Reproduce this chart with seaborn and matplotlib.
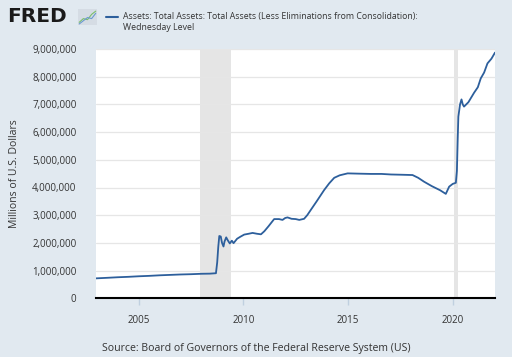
import matplotlib
matplotlib.use("Agg")
import matplotlib.pyplot as plt
import seaborn as sns
import pandas as pd
from matplotlib.ticker import FuncFormatter

# Data (fractional years, millions of US dollars)
years = [2002.96, 2003.5, 2004.0, 2004.5, 2005.0, 2005.5, 2006.0, 2006.5, 2007.0, 2007.5,
         2008.0, 2008.4, 2008.69, 2008.75, 2008.8, 2008.85, 2008.92, 2008.98, 2009.05, 2009.1,
         2009.18, 2009.25, 2009.35, 2009.45, 2009.53, 2009.7, 2009.85, 2010.04, 2010.25,
         2010.44, 2010.65, 2010.84, 2011.0, 2011.2, 2011.47, 2011.7, 2011.87, 2012.0, 2012.11,
         2012.3, 2012.5, 2012.67, 2012.9, 2013.05, 2013.22, 2013.5, 2013.86, 2014.1, 2014.34,
         2014.6, 2014.98, 2015.5, 2016.09, 2016.6, 2017.05, 2017.6, 2018.08, 2018.35, 2018.63,
         2019.0, 2019.4, 2019.67, 2019.75, 2019.83, 2020.0, 2020.15, 2020.2, 2020.24, 2020.27,
         2020.35, 2020.42, 2020.48, 2020.54, 2020.75, 2021.02, 2021.2, 2021.34, 2021.5,
         2021.66, 2021.85, 2022.02]
assets = [720000, 740000, 760000, 775000, 795000, 810000, 830000, 845000, 860000, 870000,
          885000, 890000, 905000, 1300000, 1850000, 2250000, 2230000, 2000000, 1870000, 2050000,
          2200000, 2100000, 1980000, 2080000, 1990000, 2150000, 2220000, 2300000, 2330000,
          2360000, 2330000, 2310000, 2420000, 2600000, 2860000, 2860000, 2830000, 2900000, 2920000,
          2870000, 2860000, 2830000, 2870000, 3000000, 3190000, 3500000, 3910000, 4150000, 4350000,
          4440000, 4510000, 4500000, 4490000, 4490000, 4470000, 4460000, 4450000, 4350000, 4210000,
          4050000, 3900000, 3770000, 3900000, 4030000, 4130000, 4170000, 4600000, 5800000, 6560000,
          7000000, 7180000, 7000000, 6920000, 7080000, 7420000, 7620000, 7940000, 8150000,
          8480000, 8650000, 8870000]

recessions = [(2007.92, 2009.42), (2020.08, 2020.25)]
xticks = [2005, 2010, 2015, 2020]
yticks = [0, 1000000, 2000000, 3000000, 4000000, 5000000, 6000000, 7000000, 8000000, 9000000]

df = pd.DataFrame({"year": years, "assets": assets})

BG = "#e1e9f0"
LINE = "#2d5f9c"
TXT = "#333333"

sns.set_theme(style="white")
plt.rcParams["font.family"] = ["Open Sans", "DejaVu Sans"]

fig = plt.figure(figsize=(5.12, 3.57), dpi=100, facecolor=BG)
ax = fig.add_axes([96/512, 1-298.3/357, (495-96)/512, (298.3-49)/357])
ax.set_facecolor("white")

for a, b in recessions:
    ax.axvspan(a, b, color="#e5e5e5", lw=0, zorder=0)

sns.lineplot(data=df, x="year", y="assets", ax=ax, color=LINE, lw=1.3, zorder=3)

ax.set_xlim(2002.96, 2022.02)
ax.set_ylim(0, 9000000)
ax.set_xticks(xticks)
ax.set_yticks(yticks)
ax.yaxis.set_major_formatter(FuncFormatter(lambda v, p: f"{int(v):,}"))
ax.grid(axis="y", color="#e6e6e6", lw=0.9, zorder=1)
ax.grid(axis="x", visible=False)
for s in ["top", "right", "left"]:
    ax.spines[s].set_visible(False)
ax.spines["bottom"].set_color("black")
ax.spines["bottom"].set_linewidth(1.5)
ax.spines["bottom"].set_zorder(4)
ax.tick_params(axis="y", length=0, pad=14, labelsize=7, labelcolor=TXT)
ax.tick_params(axis="x", length=5, width=1, color="#c0d0e0", pad=7, labelsize=7, labelcolor=TXT, bottom=True)
ax.set_xlabel("")
ax.set_ylabel("Millions of U.S. Dollars", fontsize=7.5, color=TXT, labelpad=8)
ax.yaxis.set_label_coords(-0.19, 0.5)

# Header: FRED logo + legend
fig.text(7/512, 1-17/357, "FRED", fontsize=14.5, fontweight="heavy", color="#1a1a1a",
         va="center", ha="left", family=["DejaVu Sans"])
icon = fig.add_axes([78/512, 1-25/357, 19/512, 16/357])
icon.set_facecolor("#d5dce4")
icon.plot([0, 1, 2, 3, 4], [0.5, 1.2, 1.0, 2.0, 2.6], color="#7bbf6a", lw=0.8)
icon.plot([0, 1, 2, 3, 4], [0.2, 0.8, 1.4, 1.2, 2.2], color="#6a9ad0", lw=0.8)
icon.set_xlim(-0.3, 4.3)
icon.set_ylim(0, 3)
icon.set_xticks([])
icon.set_yticks([])
for s in icon.spines.values():
    s.set_visible(False)

fig.add_artist(plt.Line2D([106/512, 118/512], [1-17/357, 1-17/357], color=LINE, lw=1.5))
fig.text(123/512, 1-17/357, "Assets: Total Assets: Total Assets (Less Eliminations from Consolidation):",
         fontsize=6.3, color=TXT, va="center", ha="left")
fig.text(123/512, 1-28/357, "Wednesday Level", fontsize=6.3, color=TXT, va="center", ha="left")

fig.text(0.5, 1-349/357, "Source: Board of Governors of the Federal Reserve System (US)",
         fontsize=7.6, color=TXT, va="center", ha="center")

fig.savefig("out.png", dpi=100, facecolor=BG)
